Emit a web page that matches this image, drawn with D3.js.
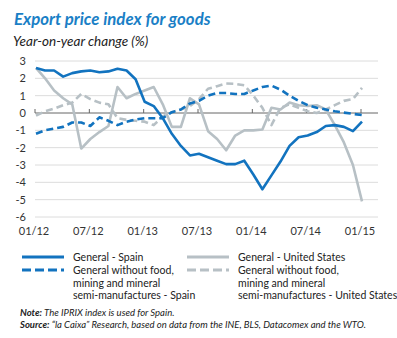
<!DOCTYPE html>
<html>
<head>
<meta charset="utf-8">
<script src="https://cdn.jsdelivr.net/npm/d3@7"></script>
<style>
  body { margin: 0; background: #fff; }
  svg { display: block; font-family: Lato, "Open Sans", sans-serif; }
</style>
</head>
<body>
<svg id="chart" width="397" height="338"></svg>
<script>
// monthly, 01/12 .. 01/15
const months = d3.range(0, 37);
const spainGeneral = [2.6, 2.45, 2.45, 2.1, 2.3, 2.4, 2.45, 2.35, 2.4, 2.55, 2.45, 1.95,
  0.65, 0.4, -0.3, -1.2, -1.9, -2.45, -2.35, -2.55, -2.75, -2.95, -2.95, -2.75,
  -3.55, -4.4, -3.6, -2.8, -1.9, -1.4, -1.3, -1.1, -0.75, -0.7, -0.8, -1.05, -0.5];
const spainCore = [-1.2, -1.0, -0.9, -0.8, -0.55, -0.55, -0.75, -0.25, -0.45, -0.7, -0.5, -0.37,
  -0.3, -0.3, -0.3, 0.05, 0.2, 0.55, 0.7, 1.0, 1.15, 1.15, 1.1, 1.1,
  1.3, 1.5, 1.58, 1.35, 1.0, 0.7, 0.45, 0.3, 0.2, 0.1, 0.02, -0.05, -0.12];
const usGeneral = [2.6, 2.0, 1.3, 0.85, 0.5, -2.05, -1.5, -1.1, -0.75, 1.5, 0.85, 1.1,
  1.3, 1.5, 0.5, -0.8, -0.8, 0.85, 0.5, -1.05, -1.5, -2.15, -1.3, -1.0,
  -1.0, -0.95, 0.3, 0.2, 0.6, 0.45, 0.4, 0.45, 0.2, -0.7, -1.7, -3.0, -5.1];
const usCore = [-0.15, 0.1, 0.25, 0.45, 0.6, 1.1, 0.8, 0.6, 0.5, -0.3, -0.4, -0.45,
  -0.5, -0.7, -0.2, 0.05, 0.2, 0.4, 0.8, 1.4, 1.55, 1.7, 1.68, 1.6,
  1.0, 0.3, -0.7, 0.3, 0.5, 0.3, 0.1, 0.0, 0.2, 0.45, 0.7, 0.8, 1.45];
const xTickMonths = [0, 6, 12, 18, 24, 30, 36];
const xTickLabels = ['01/12', '07/12', '01/13', '07/13', '01/14', '07/14', '01/15'];
const yTicks = [3, 2, 1, 0, -1, -2, -3, -4, -5, -6];

const blue = '#1273bf';
const grey = '#b7c0c5';

const svg = d3.select('#chart');

const x = d3.scaleLinear().domain([0, 36]).range([36, 362]);
const y = d3.scaleLinear().domain([-6, 3]).range([217, 61]);

// title
svg.append('text')
  .attr('x', 14).attr('y', 25)
  .attr('font-size', 16.8).attr('font-weight', 'bold').attr('font-style', 'italic')
  .attr('fill', '#1a7fc6')
  .text('Export price index for goods');
svg.append('text')
  .attr('x', 13).attr('y', 46)
  .attr('font-size', 13.5).attr('font-style', 'italic').attr('fill', '#222')
  .text('Year-on-year change (%)');

// grid
svg.append('g').selectAll('line')
  .data(yTicks.filter(d => d !== 0))
  .enter().append('line')
  .attr('x1', 35).attr('x2', 378)
  .attr('y1', d => y(d)).attr('y2', d => y(d))
  .attr('stroke', '#dcdcdc').attr('stroke-width', 1);

svg.append('g').selectAll('text')
  .data(yTicks)
  .enter().append('text')
  .attr('x', 26).attr('y', d => y(d) + 4)
  .attr('text-anchor', 'end')
  .attr('font-size', 11).attr('fill', '#333')
  .text(d => d);

// zero line + ticks
svg.append('line')
  .attr('x1', 35).attr('x2', 378)
  .attr('y1', y(0)).attr('y2', y(0))
  .attr('stroke', '#666').attr('stroke-width', 1);
svg.append('g').selectAll('line')
  .data(xTickMonths)
  .enter().append('line')
  .attr('x1', d => x(d) - 1).attr('x2', d => x(d) - 1)
  .attr('y1', y(0) - 4).attr('y2', y(0))
  .attr('stroke', '#666').attr('stroke-width', 1);

svg.append('g').selectAll('text')
  .data(xTickMonths)
  .enter().append('text')
  .attr('x', d => x(d) - 2).attr('y', 235)
  .attr('text-anchor', 'middle')
  .attr('font-size', 11).attr('fill', '#333')
  .text((d, i) => xTickLabels[i]);

// series
const line = d3.line()
  .x((d, i) => x(months[i]))
  .y(d => y(d));

const series = [
  { values: usCore, color: grey, dash: '7,4' },
  { values: usGeneral, color: grey, dash: null },
  { values: spainCore, color: blue, dash: '7,4' },
  { values: spainGeneral, color: blue, dash: null }
];

svg.append('g').selectAll('path')
  .data(series)
  .enter().append('path')
  .attr('d', d => line(d.values))
  .attr('fill', 'none')
  .attr('stroke', d => d.color)
  .attr('stroke-width', 2.6)
  .attr('stroke-linejoin', 'round')
  .attr('stroke-dasharray', d => d.dash);

// legend
const legend = [
  { x: 22, y: 257, color: blue, dash: null, lines: ['General - Spain'] },
  { x: 187, y: 257, color: grey, dash: null, lines: ['General - United States'] },
  { x: 22, y: 270, color: blue, dash: '9,4', lines: ['General without food,', 'mining and mineral', 'semi-manufactures - Spain'] },
  { x: 187, y: 270, color: grey, dash: '9,4', lines: ['General without food,', 'mining and mineral', 'semi-manufactures - United States'] }
];

const lg = svg.append('g').selectAll('g')
  .data(legend)
  .enter().append('g');
lg.append('line')
  .attr('x1', d => d.x).attr('x2', d => d.x + 42)
  .attr('y1', d => d.y).attr('y2', d => d.y)
  .attr('stroke', d => d.color).attr('stroke-width', 3)
  .attr('stroke-dasharray', d => d.dash);
lg.each(function(d) {
  const t = d3.select(this).append('text')
    .attr('font-size', 10.5).attr('fill', '#222');
  d.lines.forEach((s, i) => {
    t.append('tspan').attr('x', d.x + 51).attr('y', d.y + 4 + i * 12.5).text(s);
  });
});

// notes
const note = svg.append('text').attr('x', 20).attr('y', 316)
  .attr('font-size', 9.5).attr('font-style', 'italic').attr('fill', '#222');
note.append('tspan').attr('font-weight', 'bold').text('Note: ');
note.append('tspan').text('The IPRIX index is used for Spain.');
const src = svg.append('text').attr('x', 20).attr('y', 328)
  .attr('font-size', 9.5).attr('font-style', 'italic').attr('fill', '#222');
src.append('tspan').attr('font-weight', 'bold').text('Source: ');
src.append('tspan').text('\u201Cla Caixa\u201D Research, based on data from the INE, BLS, Datacomex and the WTO.');
</script>
</body>
</html>
